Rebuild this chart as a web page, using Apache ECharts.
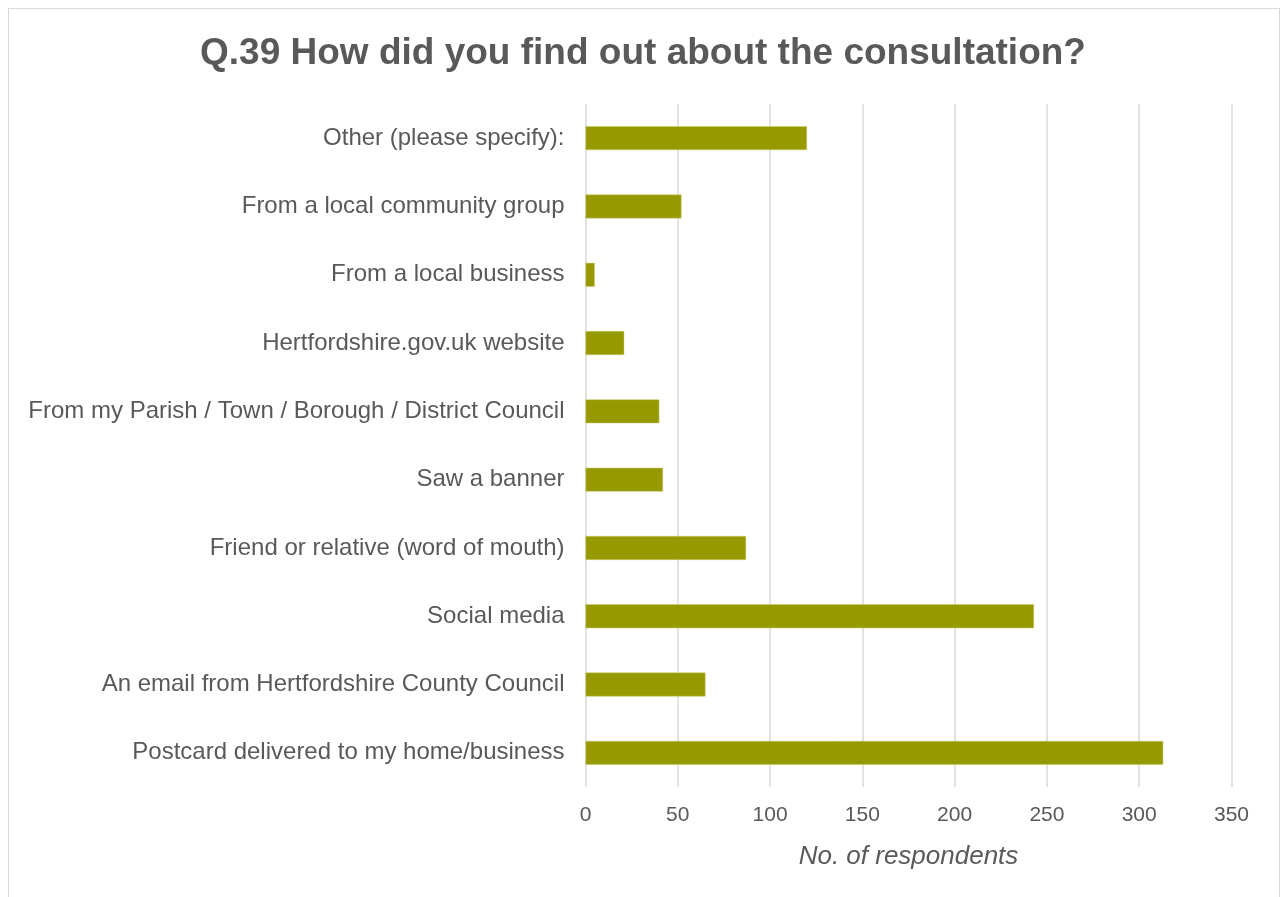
<!DOCTYPE html>
<html>
<head>
<meta charset="utf-8">
<script src="https://cdn.jsdelivr.net/npm/echarts@6/dist/echarts.min.js"></script>
<style>
  html, body { margin: 0; padding: 0; background: #fff; }
  #frame { position: absolute; left: 8px; top: 8px; width: 1272px; height: 900px; border: 1px solid #d9d9d9; box-sizing: border-box; }
  #chart { position: absolute; left: 0; top: 0; width: 1286px; height: 897px; }
</style>
</head>
<body>
<div id="frame"></div>
<div id="chart"></div>
<script>
// Survey answer options, bottom to top as drawn on the category axis
const categories = [
  'Postcard delivered to my home/business',
  'An email from Hertfordshire County Council',
  'Social media',
  'Friend or relative (word of mouth)',
  'Saw a banner',
  'From my Parish / Town / Borough / District Council',
  'Hertfordshire.gov.uk website',
  'From a local business',
  'From a local community group',
  'Other (please specify):'
];
// Number of respondents per option
const respondents = [313, 65, 243, 87, 42, 40, 21, 5, 52, 120];
// Value axis ticks
const axisMin = 0;
const axisMax = 350;
const axisStep = 50;

const chart = echarts.init(document.getElementById('chart'));
const textColor = '#595959';
const font = '"Liberation Sans", Arial, sans-serif';

chart.setOption({
  animation: false,
  title: {
    text: 'Q.39 How did you find out about the consultation?',
    left: 'center',
    top: 30,
    textStyle: { fontFamily: font, fontSize: 37, fontWeight: 'bold', color: textColor }
  },
  grid: { left: 585.5, right: 54.5, top: 104, bottom: 110, containLabel: false },
  xAxis: {
    type: 'value',
    min: axisMin,
    max: axisMax,
    interval: axisStep,
    name: 'No. of respondents',
    nameLocation: 'middle',
    nameGap: 57,
    nameTextStyle: { fontFamily: font, fontSize: 26, fontStyle: 'italic', color: textColor },
    axisLine: { show: false },
    axisTick: { show: false },
    axisLabel: { fontFamily: font, fontSize: 21, color: textColor, margin: 18 },
    splitLine: { show: true, lineStyle: { color: '#d9d9d9', width: 1.5 } }
  },
  yAxis: {
    type: 'category',
    data: categories,
    axisLine: { show: false },
    axisTick: { show: false },
    axisLabel: { fontFamily: font, fontSize: 24, color: textColor, margin: 21 }
  },
  series: [{
    type: 'bar',
    data: respondents,
    barWidth: '35%',
    itemStyle: { color: '#969a00', borderColor: '#c9cc6a', borderWidth: 0.5 }
  }]
});
</script>
</body>
</html>
